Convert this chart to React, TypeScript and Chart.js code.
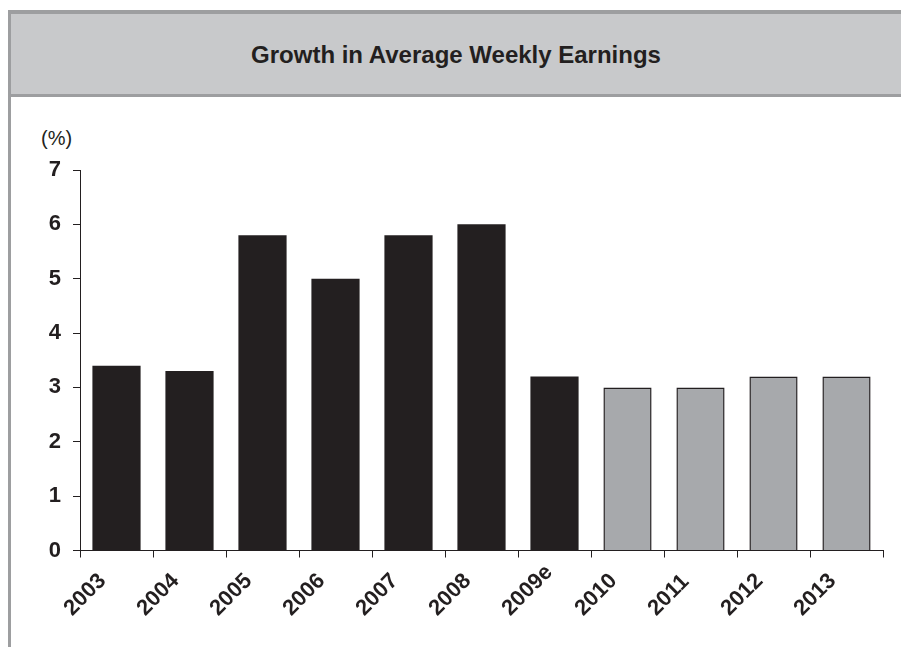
import React, { useEffect, useRef } from "react";
import { Chart, registerables } from "chart.js";

Chart.register(...registerables);

const TITLE = "Growth in Average Weekly Earnings";
const UNIT_LABEL = "(%)";
const categories = ["2003", "2004", "2005", "2006", "2007", "2008", "2009e", "2010", "2011", "2012", "2013"];
const growthValues = [3.4, 3.3, 5.8, 5.0, 5.8, 6.0, 3.2, 3.0, 3.0, 3.2, 3.2];
const isForecast = [false, false, false, false, false, false, false, true, true, true, true];
const yTicks = [0, 1, 2, 3, 4, 5, 6, 7];

const INK = "#231f20";
const FORECAST = "#a7a9ac";
const FRAME = "#9d9ea0";
const BAND = "#c8c9cb";
const FONT = "'Liberation Sans', Arial, Helvetica, sans-serif";
const XFONT = `bold 22px ${FONT}`;

// Draws the rotated category labels start-anchored (as in the reference), using the x scale's tick pixels.
const startAnchoredLabels = {
  id: "startAnchoredLabels",
  afterDraw(chart: any) {
    const xs = chart.scales.x;
    const ctx = chart.ctx;
    ctx.save();
    ctx.font = XFONT;
    ctx.fillStyle = INK;
    ctx.textAlign = "left";
    ctx.textBaseline = "middle";
    const ref4 = ctx.measureText("2003").width * Math.SQRT1_2;
    const y0 = xs.top + 7 + 20;
    categories.forEach((label: string, i: number) => {
      const cx = xs.getPixelForTick(i);
      const sx = cx - 14 - ref4;
      const sy = y0 + ref4;
      ctx.save();
      ctx.translate(sx, sy);
      ctx.rotate(-Math.PI / 4);
      ctx.fillText(label, 0, 0);
      ctx.restore();
    });
    ctx.restore();
  },
};

export default function App() {
  const ref = useRef<HTMLCanvasElement | null>(null);

  useEffect(() => {
    if (!ref.current) return;
    const chart = new Chart(ref.current, {
      type: "bar",
      data: {
        labels: categories,
        datasets: [
          {
            data: growthValues,
            backgroundColor: isForecast.map((f) => (f ? FORECAST : INK)),
            borderColor: INK,
            borderWidth: isForecast.map((f) => (f ? 1.5 : 0)),
            categoryPercentage: 1,
            barPercentage: 0.66,
          },
        ],
      },
      plugins: [startAnchoredLabels],
      options: {
        responsive: false,
        animation: false,
        layout: { padding: { top: 170, right: 18, left: 0, bottom: 0 } },
        plugins: { legend: { display: false }, tooltip: { enabled: false }, title: { display: false } },
        scales: {
          x: {
            offset: true,
            grid: { display: true, drawOnChartArea: false, drawTicks: true, tickLength: 7, color: INK, offset: true },
            border: { display: true, color: INK, width: 1 },
            ticks: { display: false, autoSkip: false },
            afterFit: (s: any) => {
              s.height = 96.5;
            },
          },
          y: {
            min: 0,
            max: 7,
            afterBuildTicks: (s: any) => {
              s.ticks = yTicks.map((v) => ({ value: v }));
            },
            grid: { display: true, drawOnChartArea: false, drawTicks: true, tickLength: 7, color: INK },
            border: { display: true, color: INK, width: 1 },
            ticks: {
              color: INK,
              font: { family: FONT, size: 22, weight: "bold" },
              padding: 12,
            },
            afterFit: (s: any) => {
              s.width = 80;
            },
          },
        },
      },
    });
    return () => chart.destroy();
  }, []);

  return (
    <div style={{ position: "fixed", left: 0, top: 0, width: 901, height: 647, background: "#fff", overflow: "hidden", fontFamily: FONT }}>
      <div style={{ position: "absolute", left: 8, top: 10, width: 3, height: 637, background: FRAME }} />
      <div style={{ position: "absolute", left: 8, top: 10, width: 893, height: 4, background: FRAME }} />
      <div style={{ position: "absolute", left: 11, top: 14, width: 890, height: 80, background: BAND }} />
      <div style={{ position: "absolute", left: 8, top: 94, width: 893, height: 3, background: FRAME }} />
      <div style={{ position: "absolute", left: 11, top: 15, width: 890, height: 80, display: "flex", alignItems: "center", justifyContent: "center", fontWeight: "bold", fontSize: 24, color: INK }}>
        {TITLE}
      </div>
      <div style={{ position: "absolute", left: 41, top: 126, fontSize: 20, lineHeight: "24px", color: INK }}>{UNIT_LABEL}</div>
      <canvas ref={ref} width={901} height={647} style={{ position: "absolute", left: 0, top: 0 }} />
    </div>
  );
}
